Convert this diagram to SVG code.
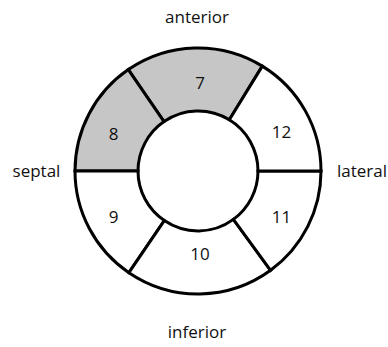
<svg xmlns="http://www.w3.org/2000/svg" width="388" height="347" viewBox="0 0 388 347">
  <style>
    .seg { stroke: #000; stroke-width: 3; stroke-linejoin: miter; }
    .on { fill: #c6c6c6; }
    .off { fill: #fff; }
    .num { font-family: "Open Sans", "Liberation Sans", sans-serif; font-size: 17px; fill: #111; text-anchor: middle; }
    .dir { font-family: "Open Sans", "Liberation Sans", sans-serif; font-size: 17px; fill: #111; text-anchor: middle; }
  </style>
  <rect width="388" height="347" fill="#fff"/>

  <!-- ring segments, centre (198,171), outer r 123, inner r 60 -->
  <g id="seg7">
    <path class="seg on" d="M262.3 66.1 A123 123 0 0 0 128.3 69.6 L164 121.6 A60 60 0 0 1 229.35 119.8 Z"/>
    <text class="num" x="200" y="89">7</text>
  </g>
  <g id="seg8">
    <path class="seg on" d="M128.3 69.6 A123 123 0 0 0 75 171 L138 171 A60 60 0 0 1 164 121.6 Z"/>
    <text class="num" x="113.5" y="140">8</text>
  </g>
  <g id="seg9">
    <path class="seg off" d="M75 171 A123 123 0 0 0 128.9 272.7 L164.3 220.6 A60 60 0 0 1 138 171 Z"/>
    <text class="num" x="113.5" y="222.5">9</text>
  </g>
  <g id="seg10">
    <path class="seg off" d="M128.9 272.7 A123 123 0 0 0 270.6 270.3 L233.4 219.4 A60 60 0 0 1 164.3 220.6 Z"/>
    <text class="num" x="200" y="260">10</text>
  </g>
  <g id="seg11">
    <path class="seg off" d="M270.6 270.3 A123 123 0 0 0 321 171 L258 171 A60 60 0 0 1 233.4 219.4 Z"/>
    <text class="num" x="281.5" y="222.5">11</text>
  </g>
  <g id="seg12">
    <path class="seg off" d="M321 171 A123 123 0 0 0 262.3 66.1 L229.35 119.8 A60 60 0 0 1 258 171 Z"/>
    <text class="num" x="281.5" y="137.5">12</text>
  </g>

  <g id="connectors"></g>

  <!-- orientation labels -->
  <g id="labels">
    <text class="dir" x="197" y="23">anterior</text>
    <text class="dir" x="197" y="337.5">inferior</text>
    <text class="dir" x="36.5" y="177">septal</text>
    <text class="dir" x="362" y="177">lateral</text>
  </g>
</svg>
